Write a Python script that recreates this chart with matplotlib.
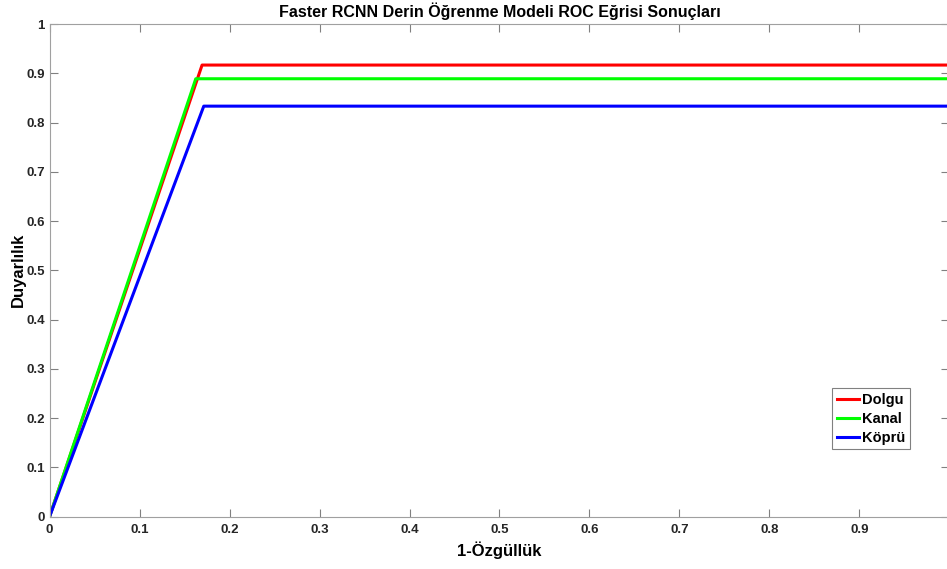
import matplotlib.pyplot as plt

plt.rcParams['font.family'] = ['Liberation Sans', 'DejaVu Sans']

# ROC points (1-specificity, sensitivity)
dolgu_x = [0, 0.1695, 1]
dolgu_y = [0, 0.9167, 0.9167]
kanal_x = [0, 0.1625, 1]
kanal_y = [0, 0.8889, 0.8889]
kopru_x = [0, 0.1714, 1]
kopru_y = [0, 0.8333, 0.8333]

ticks = [0, 0.1, 0.2, 0.3, 0.4, 0.5, 0.6, 0.7, 0.8, 0.9, 1]
tick_labels = ['0', '0.1', '0.2', '0.3', '0.4', '0.5', '0.6', '0.7', '0.8', '0.9', '1']

fig = plt.figure(figsize=(9.47, 5.69), dpi=100)
ax = fig.add_axes([0.0523, 0.0919, 0.9503, 0.8659])

ax.plot(dolgu_x, dolgu_y, color='#ff0000', lw=2.2, label='Dolgu')
ax.plot(kanal_x, kanal_y, color='#00ff00', lw=2.2, label='Kanal')
ax.plot(kopru_x, kopru_y, color='#0000ff', lw=2.2, label='Köprü')

ax.set_xlim(0, 1)
ax.set_ylim(0, 1)
ax.set_xticks(ticks)
ax.set_xticklabels(tick_labels)
ax.set_yticks(ticks)
ax.set_yticklabels(tick_labels)
ax.tick_params(direction='in', length=6, width=0.8, color='#808080',
               labelsize=9.5, labelcolor='#262626', top=True, right=True)
ax.tick_params(axis='x', pad=5)
for lab in ax.get_xticklabels() + ax.get_yticklabels():
    lab.set_fontweight('bold')
for s in ax.spines.values():
    s.set_color('#a0a0a0')
    s.set_linewidth(0.8)

ax.set_title('Faster RCNN Derin Öğrenme Modeli ROC Eğrisi Sonuçları',
             fontsize=11.5, fontweight='bold', pad=5)
ax.set_xlabel('1-Özgüllük', fontsize=12, fontweight='bold', labelpad=4)
ax.set_ylabel('Duyarlılık', fontsize=12, fontweight='bold', labelpad=0)

leg = ax.legend(loc='lower right', bbox_to_anchor=(0.956, 0.137), fancybox=False,
                framealpha=1, edgecolor='#808080', handlelength=1.5,
                handletextpad=0.25, borderpad=0.3, labelspacing=0.35, borderaxespad=0,
                prop={'weight': 'bold', 'size': 10.5})
leg.get_frame().set_linewidth(0.8)

fig.savefig('out.png', dpi=100)
